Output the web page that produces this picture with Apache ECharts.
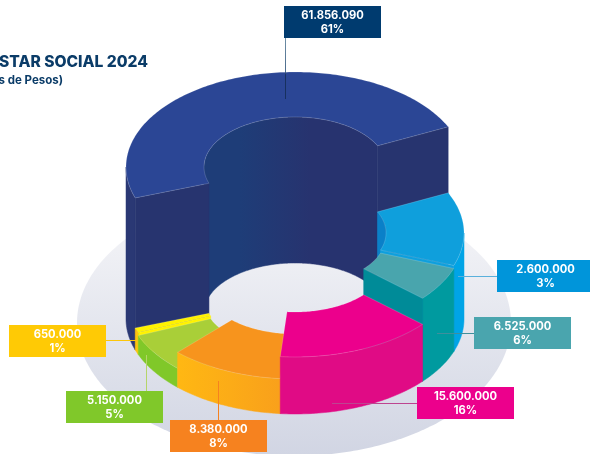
<!DOCTYPE html>
<html>
<head>
<meta charset="utf-8">
<style>html,body{margin:0;padding:0;background:#fff}#chart{width:590px;height:454px}</style>
<script src="https://cdn.jsdelivr.net/npm/echarts@6/dist/echarts.min.js"></script>
</head>
<body>
<div id="chart"></div>
<script>
// Labelled values, in the order the slices run clockwise
const sliceValues = [61856090, 2600000, 6525000, 15600000, 8380000, 5150000, 650000];
const slicePercents = [61, 3, 6, 16, 8, 5, 1];
// The reference artwork is not to scale: arc size and extrusion are read off the picture
const sliceSweepDeg = [174, 45, 21, 54, 39, 24, 3];
const sliceExtrusion = [152, 86, 83, 57, 35, 19, 22];
const titleText = 'STAR SOCIAL 2024';
const subtitleText = 's de Pesos)';

// Layout and styles
const FONT = 'Inter, "Liberation Sans", sans-serif';
const startDeg = 251, drawOrder = [0, 1, 2, 6, 5, 4, 3];
const G = {cx: 295, baseCy: 319, innerBaseCy: 313, rx: 169, ry: 95, irx: 91, iry: 50};
const grad = (x, x2, a, b) => ({type: 'linear', x, y: 0, x2, y2: 0, global: true,
  colorStops: [{offset: 0, color: a}, {offset: 1, color: b}]});
const faces = [
  {top: '#2b4695', wall: '#2a3874', cut: '#27346f', inner: grad(240, 310, '#1e3d78', '#27336f')},
  {top: '#0f9fdc', wall: '#00a4e6', cut: '#0f9fdc', inner: '#0a80c8'},
  {top: '#49a5ad', wall: '#009a9f', cut: '#008b98', inner: '#008b98'},
  {top: '#ec008c', wall: '#e00b85', cut: '#ec008c', inner: '#ec008c'},
  {top: '#f7941d', wall: grad(180, 281, '#ffb713', '#f9a01b'), cut: '#f7941d', inner: '#f7941d'},
  {top: '#a9cf38', wall: '#80c829', cut: '#a9cf38', inner: '#a9cf38'},
  {top: '#fff200', wall: '#fdc20f', cut: '#fff200', inner: '#fff200'}
];
const navyLine = {type: 'linear', x: 0, y: 0, x2: 0, y2: 1, colorStops: [
  {offset: 0, color: '#6f8fa6'}, {offset: 0.55, color: '#4a6a8c'},
  {offset: 0.6, color: '#17305f'}, {offset: 1, color: '#17305f'}]};
const labels = [
  {fill: '#003b6f', box: [284, 6],   line: [285.5, 38, 285.5, 99],   lineColor: navyLine},
  {fill: '#0095da', box: [497, 260], line: [458, 276.5, 497, 276.5], lineColor: '#5ab0dc'},
  {fill: '#4aa5ae', box: [474, 317], line: [437, 333.5, 474, 333.5], lineColor: '#3f8f9c'},
  {fill: '#ec008c', box: [417, 387], line: [332, 403.5, 417, 403.5], lineColor: '#bd4590'},
  {fill: '#f6821f', box: [170, 420], line: [218.5, 381, 218.5, 420], lineColor: '#f6821f'},
  {fill: '#80c82a', box: [66, 391],  line: [146.5, 355, 146.5, 391], lineColor: '#b5d56a'},
  {fill: '#ffca05', box: [9, 325],   line: [106, 340.5, 136, 340.5], lineColor: '#fcc60a'}
];
const BOX_W = 97, BOX_H = 32;

const rad = d => d * Math.PI / 180;
const arc = (a0, a1, rx, ry, cx, cy) => {
  const n = Math.max(1, Math.ceil(Math.abs(a1 - a0))), pts = [];
  for (let i = 0; i <= n; i++) {
    const a = rad(a0 + (a1 - a0) * i / n);
    pts.push([cx + rx * Math.sin(a), cy - ry * Math.cos(a)]);
  }
  return pts;
};
const poly = (points, fill, stroke, w) => ({type: 'polygon', shape: {points},
  style: {fill, stroke: stroke || fill, lineWidth: w === undefined ? 0.5 : w}});

// Cumulative start angle of each slice
const starts = [];
sliceSweepDeg.reduce((acc, s, i) => (starts[i] = acc, acc + s), startDeg);

function overlap(a0, a1, lo, hi) {
  for (const k of [-360, 0, 360]) {
    const s = Math.max(a0, lo + k), e = Math.min(a1, hi + k);
    if (e > s) return [s, e];
  }
  return null;
}

function renderSlice(params, api) {
  const i = api.value(0), sweep = api.value(1), h = api.value(2);
  const a0 = starts[i], a1 = a0 + sweep, f = faces[i];
  const {cx, baseCy, innerBaseCy, rx, ry, irx, iry} = G;
  const cy = baseCy - h, children = [];
  const inner = overlap(a0, a1, 270, 450);
  if (inner) {
    children.push(poly(arc(inner[0], inner[1], irx, iry, cx, cy)
      .concat(arc(inner[1], inner[0], irx, iry, cx, innerBaseCy)), f.inner));
  }
  const outer = overlap(a0, a1, 90, 270);
  if (outer) {
    children.push(poly(arc(outer[0], outer[1], rx, ry, cx, cy)
      .concat(arc(outer[1], outer[0], rx, ry, cx, baseCy)), f.wall));
  }
  const cut = a => {
    const oT = arc(a, a, rx, ry, cx, cy)[0], iT = arc(a, a, irx, iry, cx, cy)[0];
    const oB = arc(a, a, rx, ry, cx, baseCy)[0], iB = arc(a, a, irx, iry, cx, baseCy)[0];
    children.push(poly([iT, oT, oB, iB], f.cut));
  };
  if (Math.sin(rad(a0)) < 0) cut(a0);
  if (Math.sin(rad(a1)) > 0) cut(a1);
  children.push(poly(arc(a0, a1, rx, ry, cx, cy).concat(arc(a1, a0, irx, iry, cx, cy)),
    f.top, 'rgba(255,255,255,0.28)', 0.6));
  return {type: 'group', children};
}

function renderFloor() {
  return {type: 'polygon', shape: {points: arc(0, 360, 217, 133, 294, 323)},
    style: {fill: {type: 'linear', x: 0, y: 0, x2: 0, y2: 1, colorStops: [
      {offset: 0, color: '#f8f8fa'}, {offset: 1, color: '#d1d5e3'}]}}};
}

function renderLabel(params, api) {
  const i = api.value(0), l = labels[i], [x, y] = l.box;
  const text = api.value(1).toLocaleString('de-DE') + '\n' + api.value(2) + '%';
  return {type: 'group', children: [
    {type: 'line', shape: {x1: l.line[0], y1: l.line[1], x2: l.line[2], y2: l.line[3]},
      style: {stroke: l.lineColor, lineWidth: 1}},
    {type: 'rect', shape: {x, y, width: BOX_W, height: BOX_H}, style: {fill: l.fill}},
    {type: 'text', style: {text, x: x + BOX_W / 2, y: y + BOX_H / 2 + 0.5, align: 'center', verticalAlign: 'middle',
      fill: '#fff', font: '700 11.2px ' + FONT, lineHeight: 14}}
  ]};
}

const chart = echarts.init(document.getElementById('chart'), null, {renderer: 'canvas'});
chart.setOption({
  backgroundColor: '#ffffff',
  animation: false,
  title: [
    {text: titleText, left: -1, top: 54, padding: 0,
      textStyle: {fontFamily: FONT, fontWeight: 800, fontSize: 15.6, color: '#0b3c68'}},
    {text: subtitleText, right: 527, top: 74.5, padding: 0,
      textStyle: {fontFamily: FONT, fontWeight: 700, fontSize: 11.5, color: '#0b3c68'}}
  ],
  series: [
    {type: 'custom', coordinateSystem: 'none', silent: true, z: 1, renderItem: renderFloor, data: [[0]]},
    {type: 'custom', coordinateSystem: 'none', silent: true, z: 2, renderItem: renderSlice,
      data: drawOrder.map(i => [i, sliceSweepDeg[i], sliceExtrusion[i]])},
    {type: 'custom', coordinateSystem: 'none', silent: true, z: 3, renderItem: renderLabel,
      data: sliceValues.map((v, i) => [i, v, slicePercents[i]])}
  ]
});
</script>
</body>
</html>
